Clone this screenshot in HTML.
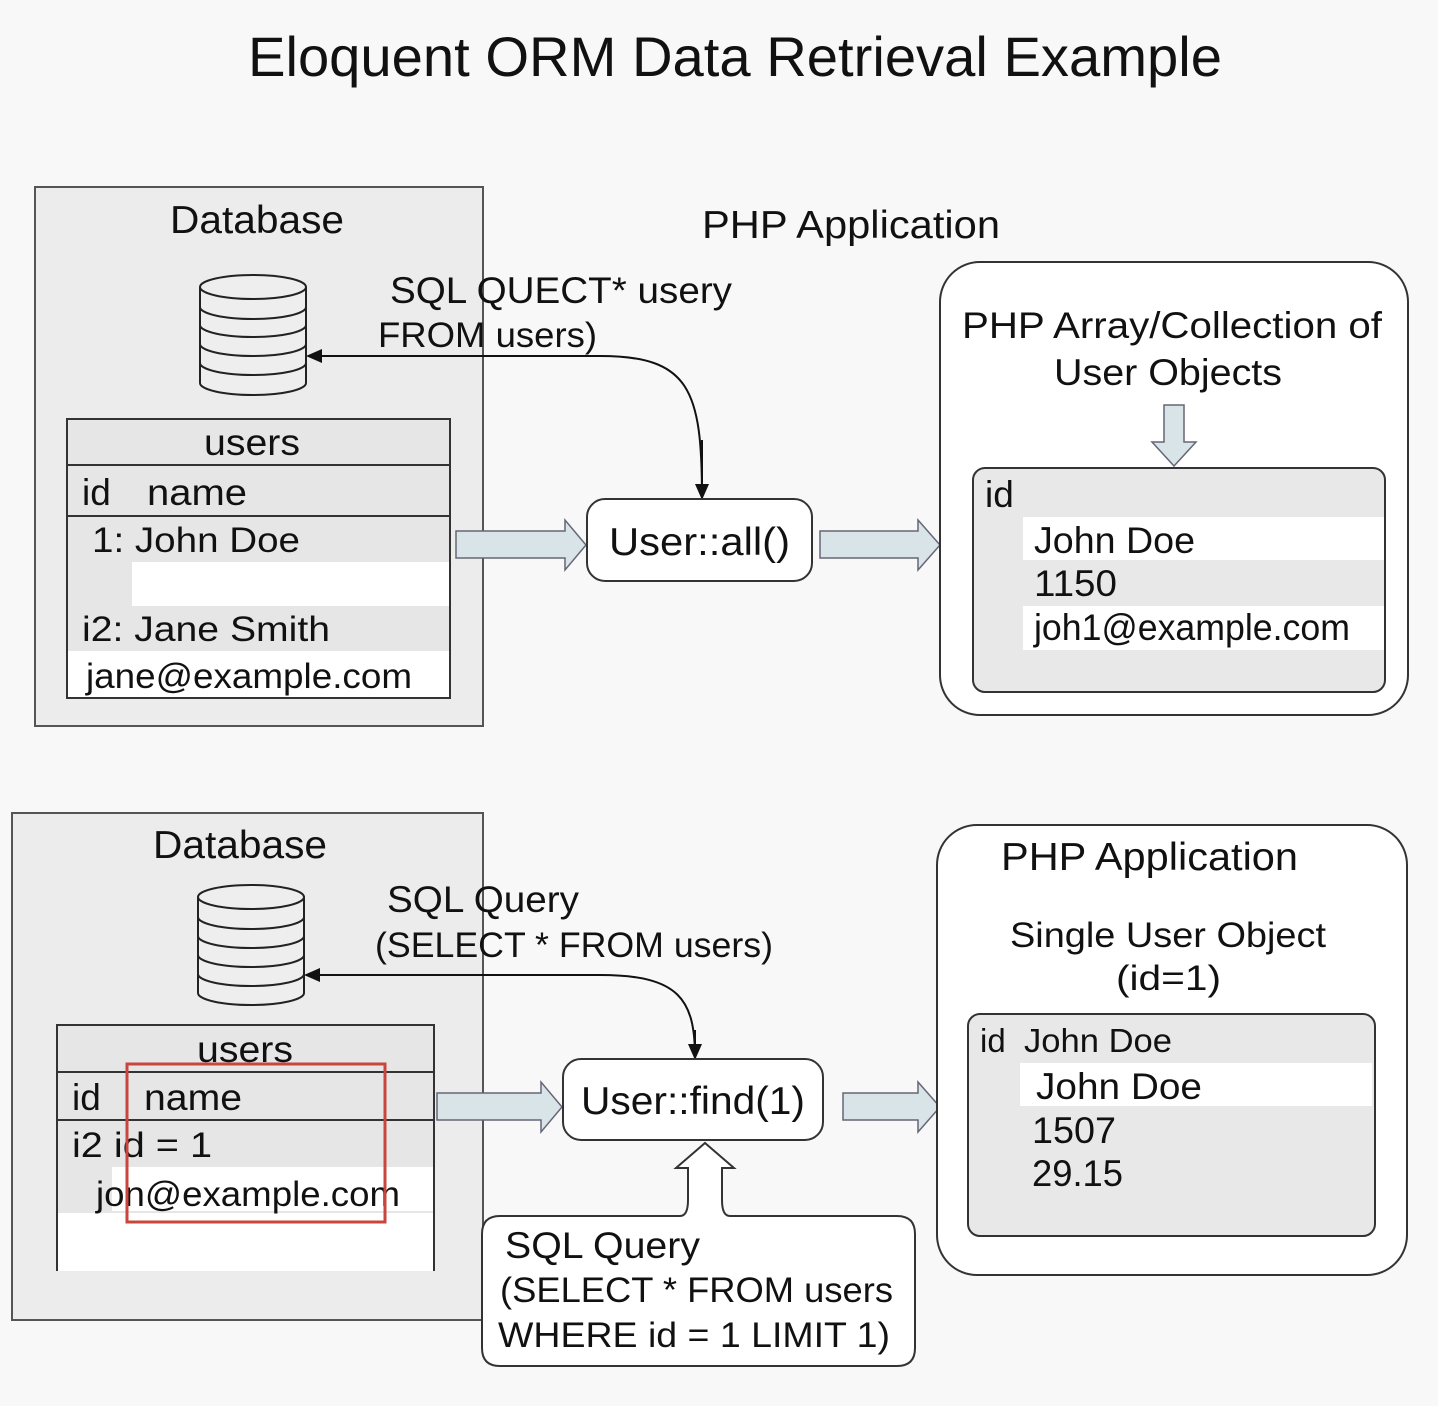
<!DOCTYPE html>
<html><head><meta charset="utf-8"><style>
html,body{margin:0;padding:0;background:#f8f8f8;}
svg{display:block;font-family:"Liberation Sans",sans-serif;}
</style></head><body>
<svg width="1438" height="1406" viewBox="0 0 1438 1406" xmlns="http://www.w3.org/2000/svg">
<defs>
<marker id="ah" markerWidth="16" markerHeight="16" refX="14" refY="7" orient="auto" markerUnits="userSpaceOnUse" viewBox="0 0 16 14"><path d="M0,0 L16,7 L0,14 z" fill="#111"/></marker>
</defs>
<rect width="1438" height="1406" fill="#f8f8f8"/>
<text x="248" y="76" font-size="56" textLength="974" lengthAdjust="spacingAndGlyphs" fill="#111">Eloquent ORM Data Retrieval Example</text>

<rect x="35" y="187" width="448" height="539" fill="#ececec" stroke="#555" stroke-width="2"/>
<text x="170" y="233" font-size="39" textLength="174" lengthAdjust="spacingAndGlyphs" fill="#111">Database</text>
<g fill="#eee" stroke="#222" stroke-width="2">
<path d="M200,287 L200,383 A53,12 0 0 0 306,383 L306,287"/>
<ellipse cx="253" cy="287" rx="53" ry="12"/>
<path d="M200,307 A53,12 0 0 0 306,307 M200,325 A53,12 0 0 0 306,325 M200,344 A53,12 0 0 0 306,344 M200,363 A53,12 0 0 0 306,363" fill="none"/>
</g>
<rect x="67" y="419" width="383" height="279" fill="#e6e6e6" stroke="#333" stroke-width="2"/>
<rect x="132" y="562" width="317" height="44" fill="#fff"/>
<rect x="68" y="651" width="381" height="46" fill="#fff"/>
<line x1="67" y1="465" x2="450" y2="465" stroke="#333" stroke-width="2"/>
<line x1="67" y1="516" x2="450" y2="516" stroke="#333" stroke-width="2"/>
<text x="204" y="455" font-size="37" textLength="96" lengthAdjust="spacingAndGlyphs" fill="#111">users</text>
<text x="82" y="505" font-size="37" fill="#111">id</text>
<text x="147" y="505" font-size="37" textLength="100" lengthAdjust="spacingAndGlyphs" fill="#111">name</text>
<text x="92" y="552" font-size="35" textLength="208" lengthAdjust="spacingAndGlyphs" fill="#111">1:  John Doe</text>
<text x="82" y="641" font-size="35" textLength="248" lengthAdjust="spacingAndGlyphs" fill="#111">i2:  Jane Smith</text>
<text x="86" y="688" font-size="35" textLength="326" lengthAdjust="spacingAndGlyphs" fill="#111">jane@example.com</text>

<path d="M702,498 C702,390 690,356 600,356 L308,356" fill="none" stroke="#111" stroke-width="2" marker-end="url(#ah)"/>
<path d="M702,440 L702,498" fill="none" stroke="#111" stroke-width="2" marker-end="url(#ah)"/>
<text x="390" y="303" font-size="37" textLength="342" lengthAdjust="spacingAndGlyphs" fill="#111">SQL QUECT* usery</text>
<text x="378" y="347" font-size="35" textLength="219" lengthAdjust="spacingAndGlyphs" fill="#111">FROM users)</text>
<text x="702" y="238" font-size="39" textLength="298" lengthAdjust="spacingAndGlyphs" fill="#111">PHP Application</text>

<path d="M456,531 L565,531 L565,520 L586,545 L565,570 L565,558 L456,558 z" fill="#d9e4e8" stroke="#667" stroke-width="1.5"/>
<rect x="587" y="499" width="225" height="82" rx="18" fill="#fff" stroke="#333" stroke-width="2"/>
<text x="609" y="555" font-size="39" textLength="181" lengthAdjust="spacingAndGlyphs" fill="#111">User::all()</text>
<path d="M820,531 L918,531 L918,520 L940,545 L918,570 L918,558 L820,558 z" fill="#d9e4e8" stroke="#667" stroke-width="1.5"/>

<rect x="940" y="262" width="468" height="453" rx="40" fill="#fff" stroke="#333" stroke-width="2"/>
<text x="962" y="338" font-size="37" textLength="420" lengthAdjust="spacingAndGlyphs" fill="#111">PHP Array/Collection of</text>
<text x="1054" y="385" font-size="37" textLength="228" lengthAdjust="spacingAndGlyphs" fill="#111">User Objects</text>
<path d="M1164,405 L1184,405 L1184,442 L1196,442 L1174,466 L1152,442 L1164,442 z" fill="#d9e4e8" stroke="#667" stroke-width="1.5"/>
<rect x="973" y="468" width="412" height="224" rx="12" fill="#e8e8e8" stroke="#333" stroke-width="2"/>
<rect x="1023" y="517" width="361" height="43" fill="#fff"/>
<rect x="1023" y="606" width="361" height="44" fill="#fff"/>
<text x="985" y="507" font-size="37" fill="#111">id</text>
<text x="1034" y="553" font-size="37" textLength="161" lengthAdjust="spacingAndGlyphs" fill="#111">John Doe</text>
<text x="1034" y="596" font-size="37" textLength="83" lengthAdjust="spacingAndGlyphs" fill="#111">1150</text>
<text x="1034" y="640" font-size="37" textLength="316" lengthAdjust="spacingAndGlyphs" fill="#111">joh1@example.com</text>

<rect x="12" y="813" width="471" height="507" fill="#ececec" stroke="#555" stroke-width="2"/>
<text x="153" y="858" font-size="39" textLength="174" lengthAdjust="spacingAndGlyphs" fill="#111">Database</text>
<g fill="#eee" stroke="#222" stroke-width="2">
<path d="M198,897 L198,993 A53,12 0 0 0 304,993 L304,897"/>
<ellipse cx="251" cy="897" rx="53" ry="12"/>
<path d="M198,917 A53,12 0 0 0 304,917 M198,936 A53,12 0 0 0 304,936 M198,955 A53,12 0 0 0 304,955 M198,974 A53,12 0 0 0 304,974" fill="none"/>
</g>
<rect x="57" y="1025" width="377" height="246" fill="#e6e6e6"/>
<rect x="112" y="1167" width="321" height="44" fill="#fff"/>
<rect x="58" y="1213" width="375" height="58" fill="#fff"/>
<path d="M57,1271 L57,1025 L434,1025 L434,1271" fill="none" stroke="#333" stroke-width="2"/>
<line x1="57" y1="1072" x2="434" y2="1072" stroke="#333" stroke-width="2"/>
<line x1="57" y1="1120" x2="434" y2="1120" stroke="#333" stroke-width="2"/>
<text x="197" y="1062" font-size="37" textLength="96" lengthAdjust="spacingAndGlyphs" fill="#111">users</text>
<text x="72" y="1110" font-size="37" fill="#111">id</text>
<text x="144" y="1110" font-size="37" textLength="98" lengthAdjust="spacingAndGlyphs" fill="#111">name</text>
<text x="72" y="1157" font-size="35" textLength="140" lengthAdjust="spacingAndGlyphs" fill="#111">i2  id = 1</text>
<text x="96" y="1206" font-size="35" textLength="304" lengthAdjust="spacingAndGlyphs" fill="#111">jon@example.com</text>
<rect x="127" y="1064" width="258" height="158" fill="none" stroke="#c9463d" stroke-width="3"/>

<path d="M695,1058 C695,1000 680,975 600,975 L306,975" fill="none" stroke="#111" stroke-width="2" marker-end="url(#ah)"/>
<path d="M695,1030 L695,1058" fill="none" stroke="#111" stroke-width="2" marker-end="url(#ah)"/>
<text x="387" y="912" font-size="37" textLength="192" lengthAdjust="spacingAndGlyphs" fill="#111">SQL Query</text>
<text x="375" y="957" font-size="35" textLength="398" lengthAdjust="spacingAndGlyphs" fill="#111">(SELECT * FROM users)</text>

<path d="M437,1093 L541,1093 L541,1082 L562,1107 L541,1132 L541,1120 L437,1120 z" fill="#d9e4e8" stroke="#667" stroke-width="1.5"/>
<rect x="563" y="1059" width="260" height="81" rx="18" fill="#fff" stroke="#333" stroke-width="2"/>
<text x="581" y="1114" font-size="39" textLength="224" lengthAdjust="spacingAndGlyphs" fill="#111">User::find(1)</text>
<path d="M843,1093 L918,1093 L918,1082 L940,1107 L918,1132 L918,1120 L843,1120 z" fill="#d9e4e8" stroke="#667" stroke-width="1.5"/>

<path d="M500,1216 L680,1216 C686,1216 688,1210 688,1200 L688,1168 L676,1168 L705,1143 L734,1168 L722,1168 L722,1200 C722,1210 724,1216 730,1216 L897,1216 Q915,1216 915,1234 L915,1348 Q915,1366 897,1366 L500,1366 Q482,1366 482,1348 L482,1234 Q482,1216 500,1216 z" fill="#fff" stroke="#333" stroke-width="2"/>
<text x="505" y="1258" font-size="37" textLength="195" lengthAdjust="spacingAndGlyphs" fill="#111">SQL Query</text>
<text x="500" y="1302" font-size="35" textLength="393" lengthAdjust="spacingAndGlyphs" fill="#111">(SELECT * FROM users</text>
<text x="498" y="1347" font-size="35" textLength="392" lengthAdjust="spacingAndGlyphs" fill="#111">WHERE id = 1 LIMIT 1)</text>

<rect x="937" y="825" width="470" height="450" rx="40" fill="#fff" stroke="#333" stroke-width="2"/>
<text x="1001" y="870" font-size="39" textLength="297" lengthAdjust="spacingAndGlyphs" fill="#111">PHP Application</text>
<text x="1010" y="947" font-size="35" textLength="316" lengthAdjust="spacingAndGlyphs" fill="#111">Single User Object</text>
<text x="1116" y="990" font-size="35" textLength="105" lengthAdjust="spacingAndGlyphs" fill="#111">(id=1)</text>
<rect x="968" y="1014" width="407" height="222" rx="12" fill="#e8e8e8" stroke="#333" stroke-width="2"/>
<rect x="1020" y="1063" width="352" height="43" fill="#fff"/>
<text x="980" y="1052" font-size="33" fill="#111">id</text>
<text x="1024" y="1052" font-size="33" textLength="148" lengthAdjust="spacingAndGlyphs" fill="#111">John Doe</text>
<text x="1036" y="1099" font-size="37" textLength="166" lengthAdjust="spacingAndGlyphs" fill="#111">John Doe</text>
<text x="1032" y="1143" font-size="37" textLength="84" lengthAdjust="spacingAndGlyphs" fill="#111">1507</text>
<text x="1032" y="1186" font-size="37" textLength="91" lengthAdjust="spacingAndGlyphs" fill="#111">29.15</text>
</svg>
</body></html>
